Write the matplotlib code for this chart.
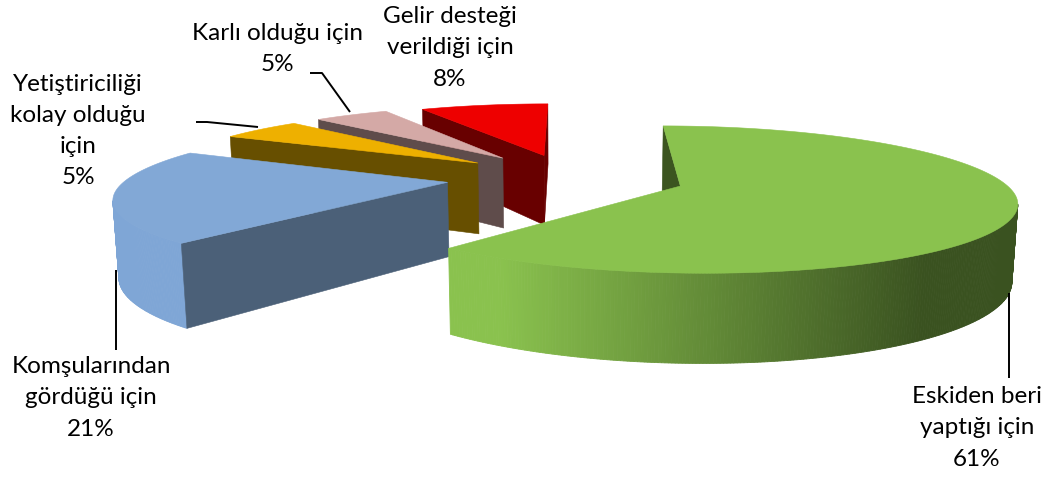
#!/usr/bin/env python3
"""Exploded 3D pie of reasons for growing the crop, drawn with a perspective projection."""

import matplotlib

matplotlib.use("Agg")
import matplotlib.pyplot as plt
import numpy as np

# clockwise from 12 o'clock
labels = [
    "Eskiden beri\nyaptığı için",
    "Komşularından\ngördüğü için",
    "Yetiştiriciliği\nkolay olduğu\niçin",
    "Karlı olduğu için",
    "Gelir desteği\nverildiği için",
]
shares = [61.4, 21.1, 5.0, 4.6, 7.9]

top_colors = ["#8AC24E", "#82A8D6", "#EEB000", "#D4A9A6", "#EE0000"]
face_colors = ["#3C5520", "#4B6078", "#674F00", "#5F4C4B", "#680000"]
wall_light = ["#8AC24E", "#7FA6D6", "#EEB000", "#D4A9A6", "#EE0000"]
wall_dark = ["#3A5220", "#7FA6D6", "#EEB000", "#D4A9A6", "#EE0000"]
explode = [0.36, 0.385, 0.37, 0.37, 0.35]

label_xy = [(977, 428), (91, 398), (78, 131), (277, 49), (450, 48)]
leaders = [
    [(1009, 293), (1009, 378)],
    [(116, 270), (116, 350)],
    [(196, 122), (207, 122), (258, 127)],
    [(310, 73), (322, 73), (350, 112)],
]

# projection constants, in pixels and pie radii
VX, HY = 570, -201
F, G = 1780, 2105
C, DW = 440, 0.07
D = 5.565


def project(x, y, bottom=False):
    w = D + y + (DW if bottom else 0.0)
    level = G + C if bottom else G
    return VX + F * x / w, HY + level / w


def draw_slice(ax, start, end, idx):
    mid = np.radians((start + end) / 2)
    ox, oy = explode[idx] * np.sin(mid), explode[idx] * np.cos(mid)
    ang = np.radians(np.linspace(start, end, max(int(end - start) * 2, 12) + 1))
    rx, ry = ox + np.sin(ang), oy + np.cos(ang)

    # outer wall, only the part turned to the camera, far strips first
    strips = []
    for i in range(len(ang) - 1):
        a = (ang[i] + ang[i + 1]) / 2
        px, py = ox + np.sin(a), oy + np.cos(a)
        if -px * np.sin(a) - (D + py) * np.cos(a) > 0:
            strips.append((py, i))
    light = np.array(matplotlib.colors.to_rgb(wall_light[idx]))
    dark = np.array(matplotlib.colors.to_rgb(wall_dark[idx]))
    for _, i in sorted(strips, reverse=True):
        xs = [rx[i], rx[i + 1]]
        ys = [ry[i], ry[i + 1]]
        tx, ty = project(np.array(xs), np.array(ys))
        bx, by = project(np.array(xs), np.array(ys), bottom=True)
        t = np.clip((tx.mean() - 500) / (925 - 500), 0, 1)
        color = light + (dark - light) * t
        ax.fill(
            [tx[0], tx[1], bx[1], bx[0]],
            [ty[0], ty[1], by[1], by[0]],
            facecolor=color,
            edgecolor=color,
            linewidth=0.6,
        )

    # cut faces, skipping the ones turned away from the camera
    for k, sign in ((0, -1.0), (-1, 1.0)):
        nx, ny = sign * np.cos(ang[k]), -sign * np.sin(ang[k])
        if nx * (-ox) + ny * (-D - oy) <= 0:
            continue
        xs = np.array([ox, rx[k]])
        ys = np.array([oy, ry[k]])
        tx, ty = project(xs, ys)
        bx, by = project(xs, ys, bottom=True)
        ax.fill(
            [tx[0], tx[1], bx[1], bx[0]],
            [ty[0], ty[1], by[1], by[0]],
            facecolor=face_colors[idx],
            edgecolor=face_colors[idx],
            linewidth=0.4,
        )

    tx, ty = project(np.r_[ox, rx], np.r_[oy, ry])
    ax.fill(tx, ty, facecolor=top_colors[idx], edgecolor=top_colors[idx], linewidth=0.4)


fig = plt.figure(figsize=(10.48, 4.8), dpi=100)
ax = fig.add_axes([0, 0, 1, 1])
ax.set_xlim(0, 1048)
ax.set_ylim(480, 0)
ax.axis("off")

edges = np.r_[0, np.cumsum(shares)] / sum(shares) * 360
for idx in [4, 3, 2, 1, 0]:
    draw_slice(ax, edges[idx], edges[idx + 1], idx)

for line in leaders:
    ax.plot(*zip(*line), color="black", linewidth=1.4, solid_capstyle="butt")

for text, share, (x, y) in zip(labels, shares, label_xy):
    ax.text(
        x,
        y,
        f"{text}\n{round(share)}%",
        ha="center",
        va="center",
        family="Lato",
        fontsize=17.5,
        linespacing=1.6,
        color="black",
    )

fig.savefig("out.png", dpi=100, facecolor="white")
